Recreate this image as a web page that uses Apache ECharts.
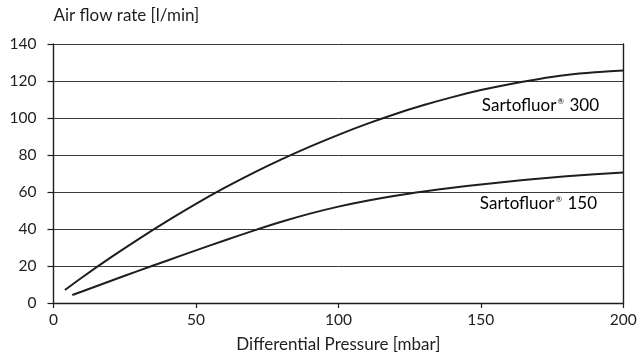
<!DOCTYPE html>
<html><head><meta charset="utf-8">
<script src="https://cdn.jsdelivr.net/npm/echarts@6/dist/echarts.min.js"></script>
<style>html,body{margin:0;padding:0;background:#fff}#c{width:640px;height:354px}</style>
</head><body><div id="c"></div>
<script>
const xTicks = [0, 50, 100, 150, 200];
const yTicks = [0, 20, 40, 60, 80, 100, 120, 140];
const s300x = [4, 10, 20, 30, 40, 50, 60, 70, 80, 90, 100, 110, 120, 130, 140, 150, 160, 170, 180, 190, 200];
const s300y = [7, 13.8, 24.5, 34.7, 44.4, 53.6, 62.2, 70.2, 77.6, 84.5, 90.9, 96.8, 102.2, 107, 111.3, 115.1, 118.3, 121, 123.2, 124.7, 125.7];
const s150x = [6.6, 10, 20, 30, 40, 50, 60, 70, 80, 90, 100, 110, 120, 130, 140, 150, 160, 170, 180, 190, 200];
const s150y = [4.3, 6.2, 11.9, 17.5, 23.0, 28.45, 33.8, 39.0, 43.9, 48.3, 52.1, 55.3, 58.0, 60.3, 62.3, 64.1, 65.7, 67.15, 68.45, 69.6, 70.6];
const seriesNames = ['Sartofluor', 'Sartofluor'];
const seriesSuffix = [' 300', ' 150'];
const xTitle = 'Differential Pressure [mbar]';
const yTitle = 'Air flow rate [l/min]';

const font = 'Lato';
const ink = '#1e1e1e';
const chart = echarts.init(document.getElementById('c'));
const pair = (xs, ys) => xs.map((x, i) => [x, ys[i]]);
const rich = {
  a: {color: ink, fontSize: 17, fontFamily: font},
  s: {color: ink, fontSize: 8, fontFamily: font, verticalAlign: 'top', padding: [0, 1, 9, 1]}
};
chart.setOption({
  animation: false,
  grid: {left: 53.5, right: 16.7, top: 44, bottom: 51, outerBoundsMode: 'none', containLabel: false},
  xAxis: {
    type: 'value', min: xTicks[0], max: xTicks[xTicks.length-1], interval: 50,
    name: xTitle, nameLocation: 'middle', nameGap: 33,
    nameTextStyle: {color: ink, fontSize: 17, fontFamily: font},
    axisLine: {lineStyle: {color: ink, width: 1.4}},
    axisTick: {show: true, length: 5, lineStyle: {color: ink, width: 1.2}},
    axisLabel: {color: ink, fontSize: 15.5, fontFamily: font, margin: 9},
    splitLine: {show: false}
  },
  yAxis: [{
    type: 'value', min: yTicks[0], max: yTicks[yTicks.length-1], interval: 20,
    name: yTitle, nameLocation: 'end', nameGap: 20,
    nameTextStyle: {color: ink, fontSize: 17, fontFamily: font, align: 'left'},
    axisLine: {show: true, lineStyle: {color: ink, width: 1.4}},
    axisTick: {show: true, length: 6, lineStyle: {color: ink, width: 1.2}},
    axisLabel: {color: ink, fontSize: 15.5, fontFamily: font, margin: 17},
    splitLine: {show: true, lineStyle: {color: '#3a3a3a', width: 1}}
  }, {
    type: 'value', min: 0, max: 140, interval: 20, position: 'right',
    axisLine: {show: true, lineStyle: {color: ink, width: 1.4}},
    axisTick: {show: false}, axisLabel: {show: false}, splitLine: {show: false}
  }],
  series: [
    {name: seriesNames[0] + seriesSuffix[0], type: 'line', smooth: 0.3, symbol: 'none',
     data: pair(s300x, s300y), lineStyle: {color: ink, width: 2}},
    {name: seriesNames[1] + seriesSuffix[1], type: 'line', smooth: 0.3, symbol: 'none',
     data: pair(s150x, s150y), lineStyle: {color: ink, width: 2}}
  ],
  graphic: [
    {type: 'text', right: 41, top: 97, style: {text: '{a|' + seriesNames[0] + '}{s|®}{a|' + seriesSuffix[0] + '}', rich: rich}},
    {type: 'text', right: 43, top: 195, style: {text: '{a|' + seriesNames[1] + '}{s|®}{a|' + seriesSuffix[1] + '}', rich: rich}}
  ]
});
</script></body></html>
